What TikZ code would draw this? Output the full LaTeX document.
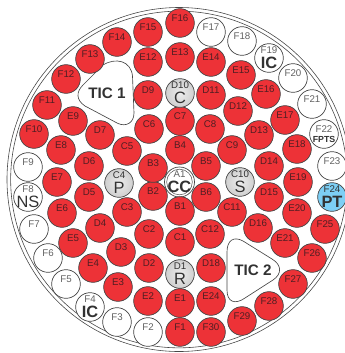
\documentclass[tikz,border=0pt]{standalone}
\usepackage{fontspec}
\setmainfont{Liberation Sans}
\usepackage{xcolor}
\usetikzlibrary{positioning}
\definecolor{pinred}{RGB}{237,50,55}
\definecolor{pinblue}{RGB}{125,207,245}
\definecolor{pinline}{RGB}{70,70,70}
\definecolor{pintext}{RGB}{50,50,50}
\definecolor{redtext}{RGB}{80,30,35}
\pgfdeclareradialshading{pinball}{\pgfpointorigin}{color(0bp)=(gray!15); color(30bp)=(gray!42); color(50bp)=(gray!78)}
\tikzset{
  pin base/.style={draw=pinline, line width=0.6pt, circle, inner sep=0pt, minimum size=0.86cm,
    text=pintext, font=\fontsize{8.3}{9}\selectfont, text height=0.21cm, text depth=0.30cm},
  redpin/.style={pin base, fill=pinred, text=redtext},
  whitepin/.style={pin base, fill=white, text=pinline!85},
  graypin/.style={pin base, shading=pinball, toplabel},
  bluepin/.style={pin base, fill=pinblue, toplabel},
  toplabel/.style={text height=0cm, text depth=0.26cm},
  bigletter/.style={text=pintext, inner sep=0pt, yshift=-0.15cm, font=\fontsize{14}{14}\selectfont},
  boldletter/.style={bigletter, font=\fontsize{14}{14}\selectfont\bfseries},
  ticbox/.style={draw=pinline, line width=0.55pt, fill=white},
  ticlabel/.style={text=pintext, inner sep=0pt, font=\fontsize{13}{13}\selectfont\bfseries},
}
\begin{document}
\begin{tikzpicture}[x=0.03cm, y=-0.03cm]
  \useasboundingbox (0,0) rectangle (345,353);
  \clip (0,0) rectangle (345,353);
  \draw[pinline, line width=0.5pt] (179,179.5) circle [radius=5.16cm];
  \draw[pinline, line width=0.5pt] (179,179.5) circle [radius=5.05cm];

  % in-core test positions
  \draw[ticbox] (103,65) .. controls (116,57) and (131,61) .. (132.5,76) -- (134,113)
    .. controls (134,123) and (126,127) .. (118,123.5) -- (85,106)
    .. controls (76,100) and (76,92) .. (83,85) -- cycle;
  \draw[ticbox] (227,252) .. controls (227,240) and (234,236) .. (243,241) -- (272,259)
    .. controls (282,265) and (282,274) .. (273,280) -- (245,298)
    .. controls (235,305) and (227,302) .. (227,290) -- cycle;
  \node[ticlabel] (tic1) at (107,93) {TIC 1};
  \node[ticlabel] (tic2) at (253,270) {TIC 2};

  % ring A
  \node[whitepin, toplabel, minimum size=0.9cm] (a1) at (179.5,182) {A1};
  \draw[pinline, line width=0.4pt] (a1.center) circle [radius=0.385cm];
  \node[boldletter] (a1x) at (a1) {CC};

  % ring B
  \node[redpin] (b1) at (180,211) {B1};
  \node[redpin] (b2) at (153,196) {B2};
  \node[redpin] (b3) at (153,168) {B3};
  \node[redpin] (b4) at (180,150) {B4};
  \node[redpin] (b5) at (206,166) {B5};
  \node[redpin] (b6) at (206,197) {B6};

  % ring C
  \node[redpin] (c1) at (180,242) {C1};
  \node[redpin] (c2) at (149,234) {C2};
  \node[redpin] (c3) at (127,212) {C3};
  \node[graypin] (c4) at (119,183) {C4};
  \node[bigletter] (c4x) at (c4) {P};
  \node[redpin] (c5) at (127,151) {C5};
  \node[redpin] (c6) at (149,129) {C6};
  \node[redpin] (c7) at (180,121) {C7};
  \node[redpin] (c8) at (210,129) {C8};
  \node[redpin] (c9) at (232,150) {C9};
  \node[graypin] (c10) at (240,182) {C10};
  \node[bigletter] (c10x) at (c10) {S};
  \node[redpin] (c11) at (232,212) {C11};
  \node[redpin] (c12) at (210,234) {C12};

  % ring D
  \node[graypin] (d1) at (180,274) {D1};
  \node[bigletter] (d1x) at (d1) {R};
  \node[redpin] (d2) at (149,268) {D2};
  \node[redpin] (d3) at (121,252) {D3};
  \node[redpin] (d4) at (100,228) {D4};
  \node[redpin] (d5) at (89,197) {D5};
  \node[redpin] (d6) at (89,166) {D6};
  \node[redpin] (d7) at (100,135) {D7};
  \node[redpin] (d9) at (148,95) {D9};
  \node[graypin] (d10) at (180,93) {D10};
  \node[bigletter] (d10x) at (d10) {C};
  \node[redpin] (d11) at (211,95) {D11};
  \node[redpin] (d12) at (238,111) {D12};
  \node[redpin] (d13) at (259,135) {D13};
  \node[redpin] (d14) at (269,166) {D14};
  \node[redpin] (d15) at (269,197) {D15};
  \node[redpin] (d16) at (258,228) {D16};
  \node[redpin] (d18) at (211,268) {D18};

  % ring E
  \node[redpin] (e1) at (180,303) {E1};
  \node[redpin] (e2) at (148,301) {E2};
  \node[redpin] (e3) at (118,287) {E3};
  \node[redpin] (e4) at (93,268) {E4};
  \node[redpin] (e5) at (73,243) {E5};
  \node[redpin] (e6) at (62,213) {E6};
  \node[redpin] (e7) at (57,182) {E7};
  \node[redpin] (e8) at (61,150) {E8};
  \node[redpin] (e9) at (73,121) {E9};
  \node[redpin] (e12) at (148,62) {E12};
  \node[redpin] (e13) at (180,57) {E13};
  \node[redpin] (e14) at (211,62) {E14};
  \node[redpin] (e15) at (241,75) {E15};
  \node[redpin] (e16) at (266,94) {E16};
  \node[redpin] (e17) at (285,120) {E17};
  \node[redpin] (e18) at (297,149) {E18};
  \node[redpin] (e19) at (298,182) {E19};
  \node[redpin] (e20) at (297,213) {E20};
  \node[redpin] (e21) at (285,243) {E21};
  \node[redpin] (e24) at (211,301) {E24};

  % ring F
  \node[redpin] (f1) at (180,332) {F1};
  \node[whitepin] (f2) at (148,332) {F2};
  \node[whitepin] (f3) at (117,322) {F3};
  \node[whitepin, toplabel] (f4) at (90,307) {F4};
  \node[boldletter] (f4x) at (f4) {IC};
  \node[whitepin] (f5) at (66,284) {F5};
  \node[whitepin] (f6) at (48,258) {F6};
  \node[whitepin] (f7) at (34,229) {F7};
  \node[whitepin, toplabel] (f8) at (28,197) {F8};
  \node[bigletter] (f8x) at (f8) {NS};
  \node[whitepin] (f9) at (28,167) {F9};
  \node[redpin] (f10) at (34,134) {F10};
  \node[redpin] (f11) at (47,105) {F11};
  \node[redpin] (f12) at (66,79) {F12};
  \node[redpin] (f13) at (90,59) {F13};
  \node[redpin] (f14) at (117,42) {F14};
  \node[redpin] (f15) at (148,32) {F15};
  \node[redpin] (f16) at (180,23) {F16};
  \node[whitepin] (f17) at (211,32) {F17};
  \node[whitepin] (f18) at (242,41) {F18};
  \node[whitepin, toplabel] (f19) at (269,58) {F19};
  \node[boldletter] (f19x) at (f19) {IC};
  \node[whitepin] (f20) at (293,78) {F20};
  \node[whitepin] (f21) at (312,104) {F21};
  \node[whitepin] (f22) at (324,134) {F22};
  \node[text=pintext, inner sep=0pt, yshift=-0.16cm, font=\fontsize{7.5}{8}\selectfont\bfseries] (f22x) at (f22) {FPTS};
  \node[whitepin] (f23) at (332,166) {F23};
  \node[bluepin] (f24) at (332,197) {F24};
  \node[boldletter] (f24x) at (f24) {PT};
  \node[redpin] (f25) at (325,229) {F25};
  \node[redpin] (f26) at (312,258) {F26};
  \node[redpin] (f27) at (293,284) {F27};
  \node[redpin] (f28) at (269,306) {F28};
  \node[redpin] (f29) at (242,321) {F29};
  \node[redpin] (f30) at (211,332) {F30};
\end{tikzpicture}
\end{document}
